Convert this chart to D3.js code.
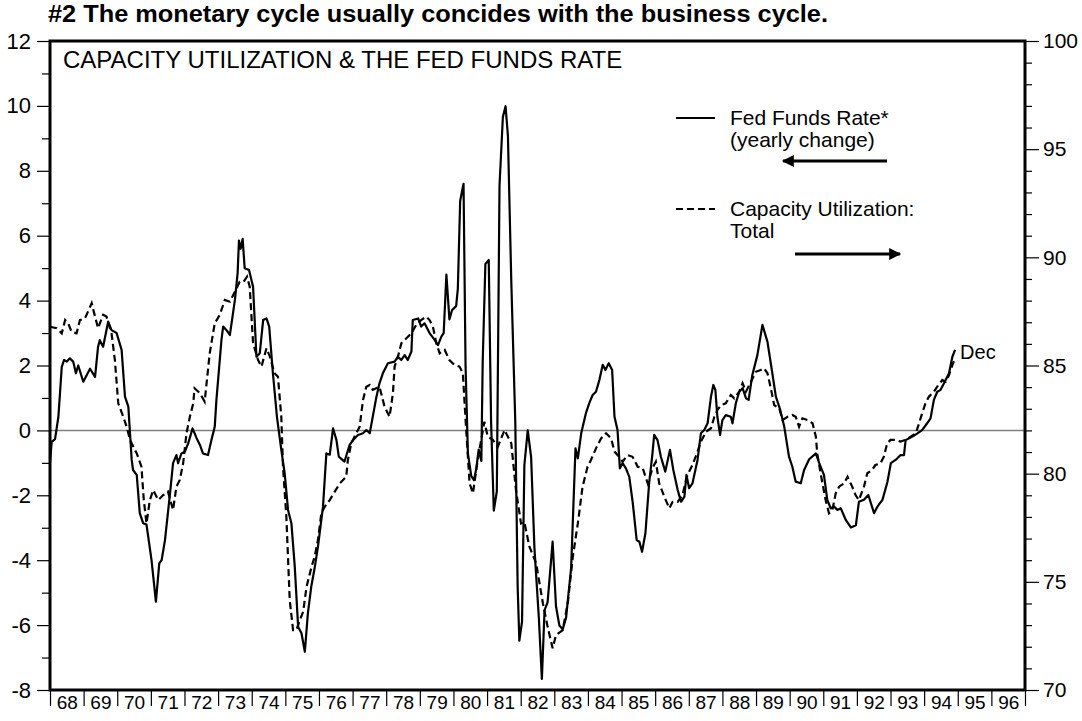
<!DOCTYPE html>
<html>
<head>
<meta charset="utf-8">
<script src="https://cdn.jsdelivr.net/npm/d3@7"></script>
<style>
  body { margin: 0; background: #fff; }
  svg { display: block; font-family: "Liberation Sans", Arial, sans-serif; }
</style>
</head>
<body>
<div id="chart"></div>
<script>
// chart text
var chartTitle = '#2 The monetary cycle usually concides with the business cycle.';
var innerTitle = 'CAPACITY UTILIZATION & THE FED FUNDS RATE';
var fedLabel = ['Fed Funds Rate*', '(yearly change)'];
var capLabel = ['Capacity Utilization:', 'Total'];
var endLabel = 'Dec';

// axis values
var leftTicks = d3.range(-8, 13, 1);
var rightTicks = d3.range(70, 101, 1);
var yearTicks = d3.range(1968, 1998, 1);
var yearLabels = d3.range(1968, 1997, 1);

// Fed funds rate, yearly change (left axis), [year, value]
var fedRate = [
    [1968.00,-1.00],[1968.05,-0.35],[1968.15,-0.27],[1968.25,0.42],[1968.35,1.96],[1968.42,2.17],[1968.50,2.12],
    [1968.59,2.22],[1968.69,2.12],[1968.77,1.76],[1968.84,2.00],[1968.99,1.50],[1969.19,1.90],[1969.34,1.65],
    [1969.43,2.58],[1969.48,2.78],[1969.58,2.58],[1969.73,3.35],[1969.83,3.09],[1969.98,3.00],[1970.13,2.48],
    [1970.23,1.04],[1970.33,0.73],[1970.43,-0.91],[1970.47,-1.22],[1970.58,-1.37],[1970.67,-2.55],[1970.77,-2.86],
    [1970.87,-2.90],[1971.02,-4.00],[1971.15,-5.28],[1971.25,-4.10],[1971.32,-4.00],[1971.42,-3.38],[1971.57,-1.94],
    [1971.66,-1.01],[1971.76,-0.76],[1971.81,-1.01],[1971.91,-0.71],[1972.01,-0.66],[1972.11,-0.40],[1972.24,0.06],
    [1972.36,-0.24],[1972.46,-0.45],[1972.55,-0.71],[1972.70,-0.76],[1972.80,-0.30],[1972.90,0.11],[1972.95,0.94],
    [1973.10,2.79],[1973.15,3.20],[1973.25,3.09],[1973.35,2.94],[1973.50,4.02],[1973.58,4.84],[1973.62,5.85],
    [1973.67,5.60],[1973.73,5.90],[1973.79,5.00],[1973.92,4.94],[1974.04,4.43],[1974.14,2.27],[1974.24,2.38],
    [1974.34,3.40],[1974.44,3.45],[1974.52,3.20],[1974.63,1.76],[1974.75,0.42],[1974.88,-0.60],[1974.98,-1.32],
    [1975.08,-2.45],[1975.18,-2.86],[1975.28,-4.20],[1975.38,-6.05],[1975.48,-6.25],[1975.58,-6.82],[1975.67,-5.64],
    [1975.77,-4.82],[1975.87,-4.25],[1975.97,-3.58],[1976.12,-2.35],[1976.22,-0.71],[1976.32,-0.75],[1976.42,0.06],
    [1976.52,-0.30],[1976.59,-0.81],[1976.76,-0.96],[1976.91,-0.45],[1977.01,-0.30],[1977.16,-0.14],[1977.31,-0.09],
    [1977.41,0.01],[1977.51,-0.09],[1977.60,0.42],[1977.71,1.04],[1977.80,1.45],[1977.90,1.76],[1978.05,2.07],
    [1978.25,2.12],[1978.35,2.27],[1978.45,2.17],[1978.55,2.32],[1978.64,2.17],[1978.75,2.43],[1978.79,3.40],
    [1978.95,3.45],[1979.04,3.20],[1979.14,3.30],[1979.29,3.00],[1979.44,2.79],[1979.54,2.63],[1979.64,2.89],
    [1979.71,3.00],[1979.79,4.80],[1979.88,3.42],[1979.96,3.71],[1980.08,3.83],[1980.13,4.36],[1980.20,7.07],
    [1980.30,7.60],[1980.36,2.00],[1980.43,-0.71],[1980.53,-1.41],[1980.61,-1.53],[1980.68,-1.18],[1980.75,-0.59],
    [1980.83,-0.94],[1980.87,2.12],[1980.95,5.13],[1981.05,5.25],[1981.12,0.24],[1981.20,-2.47],[1981.29,-1.88],
    [1981.37,7.54],[1981.47,9.66],[1981.55,9.99],[1981.62,9.08],[1981.72,4.60],[1981.84,0.24],[1981.91,-4.83],
    [1981.96,-6.48],[1982.04,-5.89],[1982.11,-1.06],[1982.21,0.00],[1982.31,-0.82],[1982.41,-3.65],[1982.54,-5.77],
    [1982.63,-7.66],[1982.71,-5.54],[1982.80,-5.30],[1982.95,-3.43],[1983.05,-5.42],[1983.15,-6.01],[1983.25,-6.13],
    [1983.35,-5.77],[1983.50,-4.24],[1983.63,-0.55],[1983.70,-0.86],[1983.80,-0.09],[1983.94,0.53],[1984.04,0.84],
    [1984.14,1.09],[1984.24,1.19],[1984.34,1.55],[1984.44,2.02],[1984.52,1.86],[1984.62,2.07],[1984.72,1.86],
    [1984.79,0.42],[1984.88,0.01],[1984.95,-1.17],[1985.03,-1.01],[1985.13,-1.17],[1985.23,-1.43],[1985.33,-2.20],
    [1985.45,-3.38],[1985.53,-3.43],[1985.61,-3.74],[1985.71,-3.17],[1985.82,-1.63],[1985.92,-0.71],[1985.97,-0.14],
    [1986.07,-0.30],[1986.17,-0.81],[1986.30,-1.27],[1986.44,-0.60],[1986.54,-1.22],[1986.67,-1.84],[1986.77,-2.20],
    [1986.87,-2.04],[1986.93,-1.37],[1987.01,-1.78],[1987.11,-1.63],[1987.26,-0.91],[1987.36,-0.09],[1987.46,0.01],
    [1987.56,0.22],[1987.66,1.04],[1987.73,1.40],[1987.79,1.25],[1987.85,0.42],[1987.93,-0.14],[1988.00,0.32],
    [1988.10,0.47],[1988.25,0.42],[1988.30,0.22],[1988.40,0.84],[1988.50,1.19],[1988.60,1.30],[1988.70,0.99],
    [1988.78,0.94],[1988.89,1.71],[1989.04,2.32],[1989.19,3.25],[1989.34,2.73],[1989.47,1.86],[1989.59,1.04],
    [1989.72,0.63],[1989.84,0.11],[1989.98,-0.81],[1990.08,-1.12],[1990.18,-1.58],[1990.33,-1.63],[1990.43,-1.22],
    [1990.58,-0.89],[1990.78,-0.71],[1990.88,-1.01],[1991.02,-1.37],[1991.12,-2.14],[1991.22,-2.40],[1991.32,-2.35],
    [1991.42,-2.45],[1991.52,-2.40],[1991.67,-2.76],[1991.82,-2.99],[1991.97,-2.92],[1992.06,-2.20],[1992.21,-2.14],
    [1992.34,-1.99],[1992.51,-2.55],[1992.61,-2.35],[1992.76,-2.14],[1992.91,-1.58],[1993.01,-1.01],[1993.15,-0.91],
    [1993.30,-0.76],[1993.40,-0.76],[1993.45,-0.30],[1993.65,-0.19],[1993.80,-0.09],[1993.94,0.01],[1994.09,0.22],
    [1994.19,0.37],[1994.29,0.94],[1994.39,1.19],[1994.49,1.25],[1994.64,1.55],[1994.74,1.76],[1994.84,2.27],
    [1994.92,2.48]
];

// Capacity utilization, total (right axis), [year, value]
var capUtil = [
    [1968.00,86.79],[1968.20,86.72],[1968.35,86.49],[1968.45,87.10],[1968.54,86.95],[1968.64,86.56],[1968.79,86.49],
    [1968.89,87.10],[1969.04,87.18],[1969.24,87.88],[1969.34,87.26],[1969.43,86.72],[1969.58,87.34],[1969.68,87.26],
    [1969.83,86.49],[1969.93,85.25],[1970.03,83.25],[1970.18,82.63],[1970.28,82.17],[1970.38,81.56],[1970.58,80.94],
    [1970.72,80.32],[1970.79,78.78],[1970.87,77.70],[1970.97,78.78],[1971.07,79.24],[1971.22,78.78],[1971.37,79.01],
    [1971.51,79.17],[1971.66,78.32],[1971.76,79.40],[1971.86,79.71],[1971.96,80.48],[1972.06,81.87],[1972.16,82.63],
    [1972.26,83.25],[1972.30,83.95],[1972.46,83.72],[1972.60,83.33],[1972.75,85.56],[1972.90,86.95],[1973.05,87.34],
    [1973.20,88.03],[1973.35,87.95],[1973.50,88.41],[1973.64,88.87],[1973.76,88.87],[1973.86,89.11],[1973.94,88.64],
    [1974.04,86.03],[1974.19,85.25],[1974.29,84.95],[1974.44,85.80],[1974.54,85.41],[1974.68,84.64],[1974.78,84.48],
    [1974.88,82.63],[1974.93,80.32],[1975.03,78.01],[1975.13,74.16],[1975.23,72.77],[1975.33,72.77],[1975.43,73.23],
    [1975.53,73.62],[1975.63,74.77],[1975.78,75.70],[1975.87,76.16],[1975.97,76.93],[1976.07,78.17],[1976.17,78.47],
    [1976.32,78.78],[1976.47,79.17],[1976.62,79.55],[1976.81,79.86],[1976.86,80.63],[1976.96,81.40],[1977.11,81.87],
    [1977.21,82.17],[1977.31,83.41],[1977.41,84.02],[1977.51,84.10],[1977.60,83.87],[1977.80,84.02],[1977.95,83.10],
    [1978.10,82.63],[1978.20,83.72],[1978.25,84.95],[1978.35,85.41],[1978.45,86.03],[1978.60,86.26],[1978.75,86.49],
    [1978.89,86.87],[1979.04,87.10],[1979.19,87.26],[1979.29,87.10],[1979.39,86.79],[1979.49,86.03],[1979.59,85.56],
    [1979.74,85.72],[1979.88,85.25],[1980.03,85.02],[1980.18,84.95],[1980.28,84.64],[1980.36,82.50],[1980.48,79.55],
    [1980.58,79.09],[1980.72,80.63],[1980.92,82.40],[1981.02,81.71],[1981.17,81.56],[1981.32,81.25],[1981.52,82.02],
    [1981.72,81.40],[1981.86,79.24],[1982.01,77.70],[1982.11,77.76],[1982.26,76.62],[1982.46,75.86],[1982.66,74.01],
    [1982.80,72.93],[1982.95,71.93],[1983.05,72.54],[1983.25,72.77],[1983.40,74.01],[1983.55,76.16],[1983.70,77.70],
    [1983.84,79.40],[1983.99,80.32],[1984.09,80.63],[1984.24,81.17],[1984.39,81.63],[1984.54,81.87],[1984.69,81.63],
    [1984.79,81.02],[1984.93,80.78],[1985.03,80.55],[1985.18,80.86],[1985.33,80.78],[1985.48,80.32],[1985.63,80.25],
    [1985.78,79.55],[1985.92,80.25],[1986.02,80.55],[1986.12,79.55],[1986.27,78.94],[1986.42,78.40],[1986.52,78.70],
    [1986.67,78.70],[1986.81,79.01],[1986.96,79.94],[1987.11,80.40],[1987.26,81.02],[1987.36,81.48],[1987.51,81.94],
    [1987.66,82.10],[1987.76,82.63],[1987.85,82.94],[1987.96,83.17],[1988.10,83.25],[1988.25,83.64],[1988.35,83.48],
    [1988.50,83.79],[1988.60,84.18],[1988.70,83.79],[1988.85,84.25],[1988.99,84.71],[1989.14,84.79],[1989.24,84.87],
    [1989.34,84.64],[1989.44,83.95],[1989.54,83.17],[1989.69,83.02],[1989.79,82.48],[1989.94,82.63],[1990.08,82.71],
    [1990.18,82.63],[1990.28,82.17],[1990.38,82.56],[1990.53,82.48],[1990.68,82.33],[1990.78,81.71],[1990.82,80.94],
    [1990.92,80.02],[1991.07,78.78],[1991.17,78.17],[1991.27,78.32],[1991.37,79.09],[1991.47,79.40],[1991.62,79.55],
    [1991.72,79.86],[1991.86,79.40],[1991.96,79.01],[1992.06,78.78],[1992.21,79.40],[1992.31,80.02],[1992.45,80.17],
    [1992.55,80.40],[1992.70,80.48],[1992.80,80.78],[1992.90,81.40],[1993.00,81.56],[1993.15,81.56],[1993.30,81.48],
    [1993.45,81.56],[1993.60,81.71],[1993.75,81.86],[1993.85,82.33],[1993.94,82.79],[1994.04,83.25],[1994.14,83.56],
    [1994.29,83.79],[1994.39,84.02],[1994.54,84.33],[1994.64,84.25],[1994.74,84.56],[1994.84,85.02],[1994.92,85.33]
];

function createChart(elementId) {

    var width = 1082;
    var height = 721;
    var plot = { left: 50, right: 1025, top: 41, bottom: 690 };

    var svg = d3
        .select(elementId)
        .append('svg')
        .attr('width', width)
        .attr('height', height);

    svg.append('rect')
        .attr('width', width)
        .attr('height', height)
        .attr('fill', '#fff');

    var x = d3.scaleLinear().domain([1968, 1997]).range([plot.left, plot.right]);
    var yLeft = d3.scaleLinear().domain([-8, 12]).range([plot.bottom, plot.top]);
    var yRight = d3.scaleLinear().domain([70, 100]).range([plot.bottom, plot.top]);

    // title (stretched a little wider, like the original)
    svg.append('text')
        .attr('x', 48)
        .attr('y', 22)
        .attr('textLength', 780)
        .attr('lengthAdjust', 'spacingAndGlyphs')
        .style('font-size', '23px')
        .style('font-weight', 'bold')
        .text(chartTitle);

    // left axis
    var leftAxis = svg.append('g')
        .attr('transform', 'translate(' + plot.left + ',0)')
        .call(d3.axisLeft(yLeft)
            .tickValues(leftTicks)
            .tickSize(13)
            .tickPadding(6)
            .tickFormat(function(d) { return d % 2 === 0 ? d : ''; }));
    leftAxis.select('.domain').remove();
    leftAxis.selectAll('.tick line')
        .attr('x2', function(d) { return d % 2 === 0 ? -13 : -8; })
        .attr('stroke', '#000')
        .attr('stroke-width', 1.2);
    leftAxis.selectAll('.tick text')
        .attr('x', -19)
        .style('font-size', '22px')
        .style('font-family', '"Liberation Sans", Arial, sans-serif')
        .attr('fill', '#000');

    // right axis
    var rightAxis = svg.append('g')
        .attr('transform', 'translate(' + plot.right + ',0)')
        .call(d3.axisRight(yRight)
            .tickValues(rightTicks)
            .tickSize(14)
            .tickFormat(function(d) { return d % 5 === 0 ? d : ''; }));
    rightAxis.select('.domain').remove();
    rightAxis.selectAll('.tick line')
        .attr('x2', function(d) { return d % 5 === 0 ? 14 : 7; })
        .attr('stroke', '#000')
        .attr('stroke-width', 1.2);
    rightAxis.selectAll('.tick text')
        .attr('x', 18)
        .style('font-size', '21px')
        .style('font-family', '"Liberation Sans", Arial, sans-serif')
        .attr('fill', '#000');

    // bottom axis: year boundaries
    var bottomAxis = svg.append('g')
        .attr('transform', 'translate(0,' + plot.bottom + ')')
        .call(d3.axisBottom(x)
            .tickValues(yearTicks)
            .tickSize(16)
            .tickFormat(''));
    bottomAxis.select('.domain').remove();
    bottomAxis.selectAll('.tick line')
        .attr('stroke', '#000')
        .attr('stroke-width', 1.2);

    // bottom axis: year labels between boundaries
    var labelAxis = svg.append('g')
        .attr('transform', 'translate(0,' + plot.bottom + ')')
        .call(d3.axisBottom(x)
            .tickValues(yearLabels.map(function(d) { return d + 0.5; }))
            .tickSize(0)
            .tickPadding(6)
            .tickFormat(function(d) { return d3.format('02d')(Math.floor(d) % 100); }));
    labelAxis.select('.domain').remove();
    labelAxis.selectAll('.tick text')
        .style('font-size', '19px')
        .style('font-family', '"Liberation Sans Narrow", "Arial Narrow", sans-serif')
        .attr('fill', '#000');

    // zero line
    svg.append('line')
        .attr('x1', plot.left)
        .attr('x2', plot.right)
        .attr('y1', yLeft(0))
        .attr('y2', yLeft(0))
        .attr('stroke', '#808080')
        .attr('stroke-width', 1.5);

    // series
    var fedLine = d3.line()
        .x(function(d) { return x(d[0]); })
        .y(function(d) { return yLeft(d[1]); });
    var capLine = d3.line()
        .x(function(d) { return x(d[0]); })
        .y(function(d) { return yRight(d[1]); });

    svg.append('path')
        .datum(capUtil)
        .attr('d', capLine)
        .attr('fill', 'none')
        .attr('stroke', '#000')
        .attr('stroke-width', 2.2)
        .attr('stroke-dasharray', '7,4');

    svg.append('path')
        .datum(fedRate)
        .attr('d', fedLine)
        .attr('fill', 'none')
        .attr('stroke', '#000')
        .attr('stroke-width', 2.2)
        .attr('stroke-linejoin', 'round');

    // plot frame
    svg.append('rect')
        .attr('x', plot.left)
        .attr('y', plot.top)
        .attr('width', plot.right - plot.left)
        .attr('height', plot.bottom - plot.top)
        .attr('fill', 'none')
        .attr('stroke', '#000')
        .attr('stroke-width', 3);

    // inner title
    svg.append('text')
        .attr('x', 63)
        .attr('y', 68)
        .style('font-size', '24px')
        .text(innerTitle);

    // legend
    var legend = svg.append('g').attr('class', 'legend');

    legend.append('line')
        .attr('x1', 676).attr('x2', 715)
        .attr('y1', 118).attr('y2', 118)
        .attr('stroke', '#000')
        .attr('stroke-width', 2.2);

    legend.append('line')
        .attr('x1', 676).attr('x2', 715)
        .attr('y1', 209).attr('y2', 209)
        .attr('stroke', '#000')
        .attr('stroke-width', 2.2)
        .attr('stroke-dasharray', '7,4');

    legend.selectAll('.fed-text')
        .data(fedLabel)
        .enter()
        .append('text')
        .attr('class', 'fed-text')
        .attr('x', 730)
        .attr('y', function(d, i) { return 125 + i * 22; })
        .style('font-size', '21px')
        .text(function(d) { return d; });

    legend.selectAll('.cap-text')
        .data(capLabel)
        .enter()
        .append('text')
        .attr('class', 'cap-text')
        .attr('x', 730)
        .attr('y', function(d, i) { return 216 + i * 22; })
        .style('font-size', '21px')
        .text(function(d) { return d; });

    // arrows
    var defs = svg.append('defs');
    defs.append('marker')
        .attr('id', 'head')
        .attr('viewBox', '0 0 10 10')
        .attr('refX', 9)
        .attr('refY', 5)
        .attr('markerWidth', 9)
        .attr('markerHeight', 4)
        .attr('markerUnits', 'strokeWidth')
        .attr('orient', 'auto')
        .append('path')
        .attr('d', 'M0,0 L10,5 L0,10 Z')
        .attr('fill', '#000');

    legend.append('line')
        .attr('x1', 887).attr('x2', 783)
        .attr('y1', 161).attr('y2', 161)
        .attr('stroke', '#000')
        .attr('stroke-width', 3)
        .attr('marker-end', 'url(#head)');

    legend.append('line')
        .attr('x1', 795).attr('x2', 900)
        .attr('y1', 254).attr('y2', 254)
        .attr('stroke', '#000')
        .attr('stroke-width', 3)
        .attr('marker-end', 'url(#head)');

    // end label
    var last = fedRate[fedRate.length - 1];
    svg.append('text')
        .attr('x', x(last[0]) + 5)
        .attr('y', yLeft(last[1]) + 9)
        .style('font-size', '20px')
        .text(endLabel);
}

createChart('#chart');
</script>
</body>
</html>
